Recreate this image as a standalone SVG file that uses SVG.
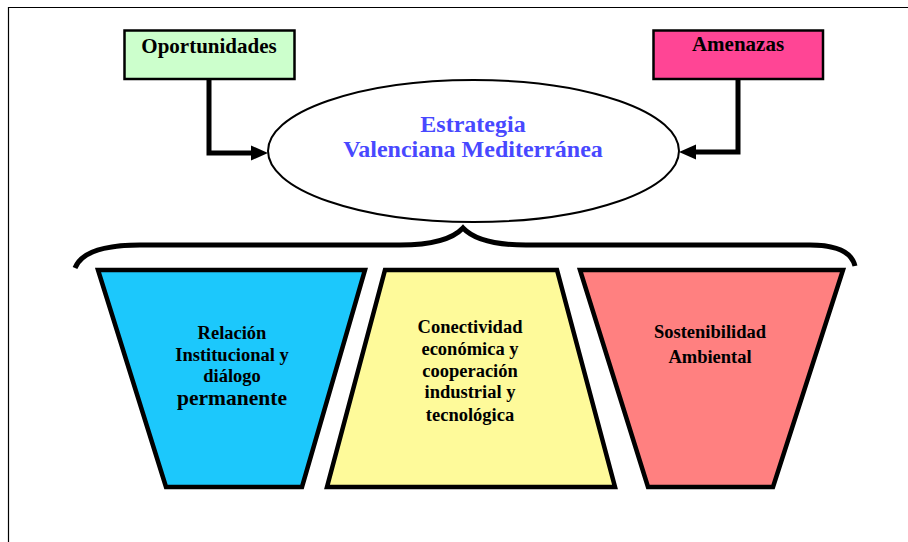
<svg xmlns="http://www.w3.org/2000/svg" width="908" height="542" viewBox="0 0 908 542">
<style>
text{font-family:'Liberation Serif','Times New Roman',serif;font-weight:bold;text-anchor:middle;fill:#000}
.blue{fill:#4848ff}
.box{stroke:#000;stroke-width:2.5}
.trap{stroke:#000;stroke-width:4.5;stroke-linejoin:miter}
.conn{fill:none;stroke:#000;stroke-width:5}
</style>
<rect width="908" height="542" fill="#fff"/>
<path d="M8.5,542 V7.5 H908" fill="none" stroke="#000" stroke-width="1.2"/>
<g id="connectors">
<path class="conn" d="M209,79 V153 H254"/>
<polygon points="268,153 251,145.5 251,160.5" fill="#000"/>
<path class="conn" d="M738,79 V152 H693"/>
<polygon points="679,152 696,144.5 696,159.5" fill="#000"/>
<path class="conn" d="M75,268 Q84,245 140,245 L400,245 Q447,245 463,228 Q479,245 526,245 L810,245 Q850,245 855,266" stroke-width="4.5"/>
</g>
<g id="oportunidades">
<rect class="box" x="124.5" y="30.5" width="170" height="48.5" fill="#ccffcc"/>
<text x="209" y="53" font-size="21" font-family="Liberation Serif, serif">Oportunidades</text>
</g>
<g id="amenazas">
<rect class="box" x="653.5" y="30.5" width="169.5" height="48.5" fill="#ff4595"/>
<text x="738" y="51" font-size="21" font-family="Liberation Serif, serif">Amenazas</text>
</g>
<g id="estrategia">
<ellipse cx="473.5" cy="151" rx="205.5" ry="71" fill="#fff" stroke="#000" stroke-width="2"/>
<text class="blue" x="473" y="132" font-size="24" font-family="Liberation Serif, serif">Estrategia</text>
<text class="blue" x="473" y="157" font-size="24" font-family="Liberation Serif, serif">Valenciana Mediterránea</text>
</g>
<g id="relacion">
<polygon class="trap" points="98,270 365,270 302,487 166,487" fill="#1cc8fc"/>
<text font-size="18.5" font-family="Liberation Serif, serif"><tspan x="232" y="339">Relación</tspan><tspan x="232" y="361">Institucional y</tspan><tspan x="232" y="382">diálogo</tspan><tspan x="232" y="405" font-size="21.5">permanente</tspan></text>
</g>
<g id="conectividad">
<polygon class="trap" points="385,270 557,270 615,487 327,487" fill="#fefa9a"/>
<text font-size="18.5" font-family="Liberation Serif, serif"><tspan x="470" y="333">Conectividad</tspan><tspan x="470" y="355">económica y</tspan><tspan x="470" y="377">cooperación</tspan><tspan x="470" y="398">industrial y</tspan><tspan x="470" y="421">tecnológica</tspan></text>
</g>
<g id="sostenibilidad">
<polygon class="trap" points="580,270 843,270 773,487 648,487" fill="#ff8080"/>
<text font-size="18.5" font-family="Liberation Serif, serif"><tspan x="710" y="338">Sostenibilidad</tspan><tspan x="710" y="363">Ambiental</tspan></text>
</g>
</svg>
